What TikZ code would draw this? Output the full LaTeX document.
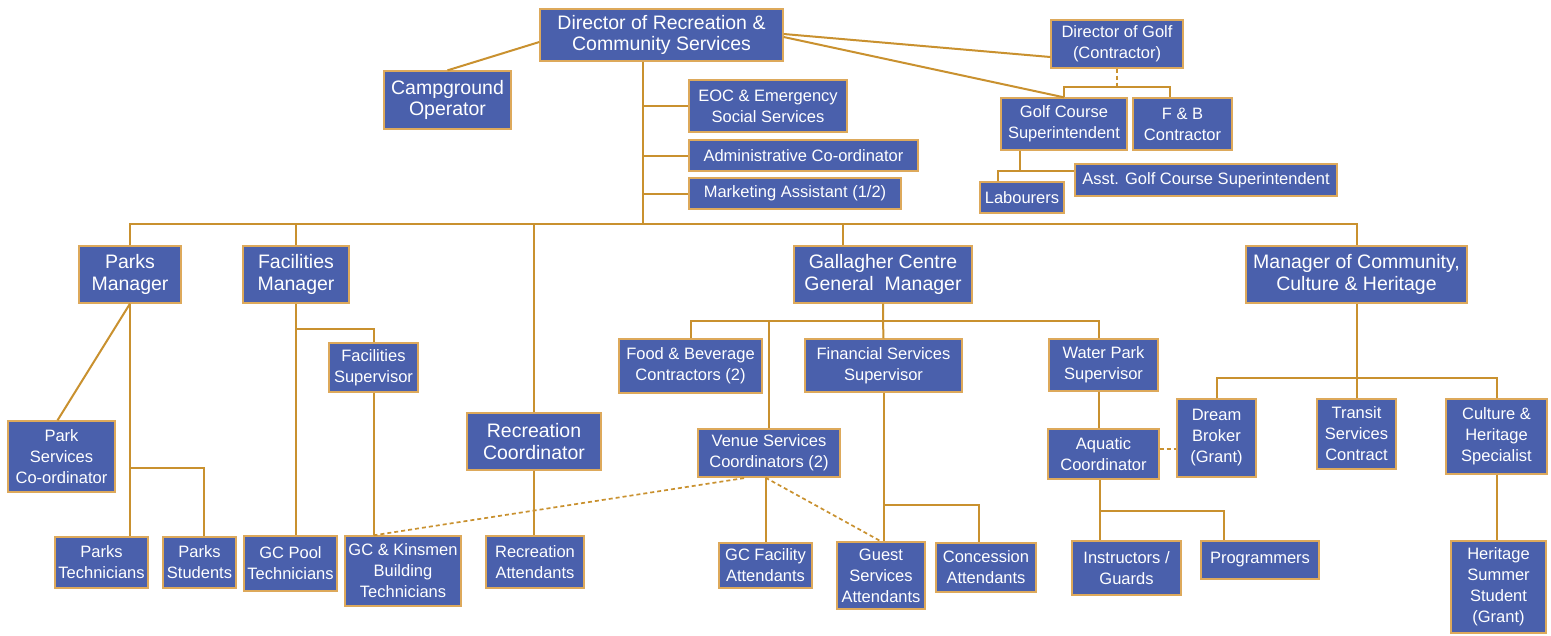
\documentclass[tikz,border=0pt]{standalone}
\usepackage{fontspec}
\setmainfont{Liberation Sans}
\usepackage{tikz}
\definecolor{boxblue}{HTML}{4A60AC}
\definecolor{boxrim}{HTML}{DDA95B}
\definecolor{linkgold}{HTML}{C9912F}

\begin{document}
\begin{tikzpicture}[
    x=1pt, y=-1pt,
    role/.style={rectangle, draw=boxrim, line width=1.3pt, fill=boxblue, text=white, align=center, inner sep=0pt, font=\fontsize{16.5}{21}\selectfont},
    head/.style={role, font=\fontsize{19.5}{21.5}\selectfont},
    dims/.style 2 args={minimum width=#1pt, minimum height=#2pt},
    link/.style={draw=linkgold, line width=2pt},
    dotlink/.style={link, line width=1.7pt, dash pattern=on 4pt off 3pt}
]
\useasboundingbox[fill=white] (0,0) rectangle (1551,635);

\node[head, dims={243}{52}] (dir) at (661.5,35) {Director of Recreation \&\\Community Services};
\node[head, dims={127}{58}] (camp) at (447.5,100) {Campground\\Operator};
\node[role, dims={158}{52}] (eoc) at (768,106) {EOC \& Emergency\\Social Services};
\node[role, dims={229}{31}] (admin) at (803.5,155.5) {Administrative Co-ordinator};
\node[role, dims={212}{31}] (mkt) at (795,193.5) {Marketing Assistant (1/2)};

\node[role, dims={132}{48}] (golf) at (1117,44) {Director of Golf\\(Contractor)};
\node[role, dims={126}{52}] (gcs) at (1064,124) {Golf Course\\Superintendent};
\node[role, dims={99}{52}] (fb) at (1182.5,124) {F \& B\\Contractor};
\node[role, dims={84}{31}] (lab) at (1022,197.5) {Labourers};
\node[role, dims={262}{32}] (asst) at (1206,180) {Asst. Golf Course Superintendent};

\node[head, dims={102}{57}] (parks) at (130,274.5) {Parks\\Manager};
\node[head, dims={106}{57}] (facm) at (296,274.5) {Facilities\\Manager};
\node[head, dims={178}{57}] (gcgm) at (883,274.5) {Gallagher Centre\\General~ Manager};
\node[head, dims={221}{57}] (mcch) at (1356.5,274.5) {Manager of Community,\\Culture \& Heritage};
\node[head, dims={134}{57}] (recc) at (534,441.5) {Recreation\\Coordinator};

\node[role, dims={107}{71}] (psc) at (61.5,456.5) {Park\\Services\\Co-ordinator};
\node[role, dims={93}{51}] (ptech) at (101.5,562.5) {Parks\\Technicians};
\node[role, dims={73}{51}] (pstud) at (199.5,562.5) {Parks\\Students};
\node[role, dims={89}{49}] (facs) at (373.5,367.5) {Facilities\\Supervisor};
\node[role, dims={93}{55}] (pool) at (290.5,563.5) {GC Pool\\Technicians};
\node[role, dims={116}{70}] (kins) at (403,571) {GC \& Kinsmen\\Building\\Technicians};
\node[role, dims={98}{52}] (reca) at (535,562) {Recreation\\Attendants};

\node[role, dims={143}{54}] (fbc) at (690.5,366) {Food \& Beverage\\Contractors (2)};
\node[role, dims={157}{53}] (fss) at (883.5,365.5) {Financial Services\\Supervisor};
\node[role, dims={109}{52}] (wps) at (1103.5,365) {Water Park\\Supervisor};
\node[role, dims={142}{48}] (vsc) at (769,453) {Venue Services\\Coordinators (2)};
\node[role, dims={111}{50}] (aqc) at (1103.5,454) {Aquatic\\Coordinator};
\node[role, dims={93}{45}] (gcfa) at (765.5,565.5) {GC Facility\\Attendants};
\node[role, dims={88}{67}] (gsa) at (881,575.5) {Guest\\Services\\Attendants};
\node[role, dims={100}{49}] (conc) at (986,567.5) {Concession\\Attendants};
\node[role, dims={109}{54}] (ig) at (1126.5,568) {Instructors /\\Guards};
\node[role, dims={118}{38}] (prog) at (1260,560) {Programmers};

\node[role, dims={79}{78}] (dream) at (1216.5,438) {Dream\\Broker\\(Grant)};
\node[role, dims={79}{70}] (transit) at (1356.5,434) {Transit\\Services\\Contract};
\node[role, dims={101}{75}] (chs) at (1496.5,436.5) {Culture \&\\Heritage\\Specialist};
\node[role, dims={95}{92}] (hss) at (1498.5,587) {Heritage\\Summer\\Student\\(Grant)};

\coordinate (trunk) at (643,224);
\coordinate (golfsplit) at (1117,87);
\coordinate (gcsknee) at (1020,171);
\coordinate (parksknee) at (130,468);
\coordinate (facknee) at (296,329);
\coordinate (gcsplit) at (883,321);
\coordinate (fssknee) at (883,505);
\coordinate (aqcknee) at (1100,511);
\coordinate (mcsplit) at (1358,378);

\draw[link] (camp.north) -- ([yshift=-7pt]dir.west);
\draw[link] (trunk |- dir.south) -- (trunk);
\draw[link] (parks.north) -- (parks.north |- trunk) -- (mcch.north |- trunk) -- (mcch.north);
\draw[link] (facm.north) -- (facm.north |- trunk);
\draw[link] (recc.north) -- (recc.north |- trunk);
\draw[link] ([xshift=-40pt]gcgm.north) -- ([xshift=-40pt]gcgm.north |- trunk);
\draw[link] (eoc.west) -- (eoc.west -| trunk);
\draw[link] (admin.west) -- (admin.west -| trunk);
\draw[link] (mkt.west) -- (mkt.west -| trunk);

\draw[link] ([yshift=1pt]dir.east) -- ([yshift=-13pt]golf.west);
\draw[link] ([yshift=-2pt]dir.east) -- (gcs.north);
\draw[dotlink] (golf.south) -- (golfsplit);
\draw[link] (gcs.north) |- (golfsplit) -| ([xshift=-12.5pt]fb.north);
\draw[link] ([xshift=-44pt]gcs.south) -- (gcsknee);
\draw[link] ([xshift=-24pt]lab.north) |- ([yshift=9pt]asst.west);

\draw[link] (parks.south) -- ([xshift=-4pt]psc.north);
\draw[link] (parks.south) -- (parks.south |- ptech.north);
\draw[link] (parksknee) -| ([xshift=4.5pt]pstud.north);
\draw[link] (facm.south) -- (facm.south |- pool.north);
\draw[link] (facknee) -| (facs.north);
\draw[link] (facs.south) -- (facs.south |- kins.north);
\draw[link] (recc.south) -- (recc.south |- reca.north);
\draw[dotlink] (facs.south |- kins.north) -- ([xshift=-22pt]vsc.south);

\draw[link] (gcgm.south) -- (gcsplit) -- (fss.north);
\draw[link] (fbc.north) |- (gcsplit) -| ([xshift=-4.5pt]wps.north);
\draw[link] (vsc.north |- gcsplit) -- (vsc.north);
\draw[link] (fss.south) -- (fss.south |- gsa.north);
\draw[link] (fssknee) -| ([xshift=-7pt]conc.north);
\draw[link] (gcfa.north |- vsc.south) -- (gcfa.north);
\draw[dotlink] (gcfa.north |- vsc.south) -- (gsa.north);

\draw[link] ([xshift=-4.5pt]wps.south) -- ([xshift=-4.5pt]wps.south |- aqc.north);
\draw[dotlink] ([yshift=5pt]aqc.east) -- ([yshift=5pt]aqc.east -| dream.west);
\draw[link] ([xshift=-3.5pt]aqc.south) -- ([xshift=-3.5pt]aqc.south |- ig.north);
\draw[link] (aqcknee) -| ([xshift=-36pt]prog.north);

\draw[link] (mcch.south) -- (transit.north);
\draw[link] (dream.north) |- (mcsplit) -| (chs.north);
\draw[link] (chs.south) -- (chs.south |- hss.north);
\end{tikzpicture}
\end{document}
